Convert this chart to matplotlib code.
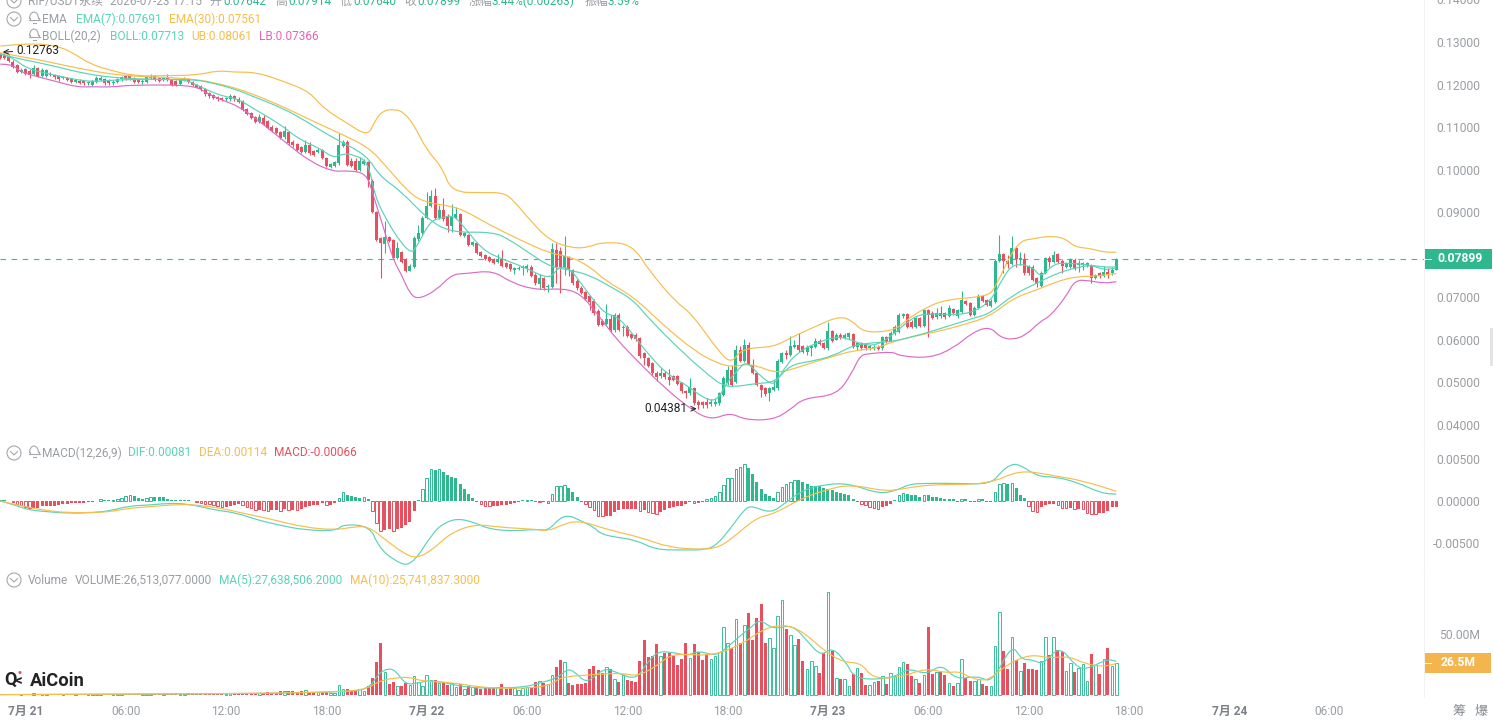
# -*- coding: utf-8 -*-
import matplotlib
matplotlib.use('Agg')
import matplotlib.pyplot as plt
import numpy as np
from matplotlib.patches import Circle, Rectangle, Arc, PathPatch
from matplotlib.path import Path

plt.rcParams['font.family'] = ['Roboto', 'Noto Sans CJK SC', 'DejaVu Sans']

# 15 minute candles, prices in thousandths
opens = [126.9,126.9,126.5,125.4,124.6,123.0,123.6,123.3,122.6,123.8,122.0,122.0,
    122.6,122.2,122.0,121.5,121.5,121.4,120.7,120.9,120.8,120.3,119.9,120.7,
    121.1,121.2,120.9,120.3,120.7,121.2,122.0,121.9,121.4,121.1,120.5,120.7,
    121.6,121.9,121.5,121.1,121.7,121.1,120.8,120.1,121.1,121.2,120.6,119.9,
    119.7,119.0,118.0,117.5,117.0,116.8,116.5,116.5,117.2,116.7,116.1,114.2,
    113.2,112.3,111.2,112.1,111.4,110.1,109.8,108.9,107.6,108.9,106.6,106.0,
    105.3,104.2,105.7,104.3,104.2,104.6,102.7,100.7,100.9,101.5,105.6,106.6,
    102.1,102.1,100.0,101.4,101.7,97.4,90.1,83.9,82.5,84.1,83.5,79.2,
    80.7,78.9,76.3,77.2,83.6,85.0,88.6,91.5,93.8,88.6,90.5,88.9,
    86.8,88.6,89.6,84.4,84.6,82.3,82.7,80.7,79.9,79.4,78.9,78.4,
    78.9,78.0,77.8,76.4,76.7,76.8,76.9,77.2,75.3,73.2,74.5,72.4,
    72.4,81.1,81.0,77.0,79.4,76.4,73.9,72.3,71.3,70.2,69.2,66.9,
    64.5,63.7,65.0,62.2,65.9,62.7,63.1,61.4,61.2,60.4,56.8,55.7,
    54.5,52.3,51.4,52.3,51.2,51.4,51.4,49.8,47.9,47.4,48.6,45.5,
    45.3,45.4,44.9,44.9,45.1,47.1,49.8,52.9,50.2,57.6,55.1,58.8,
    54.1,52.2,49.4,48.6,47.4,48.2,48.6,54.9,56.9,56.5,58.4,58.8,
    58.6,57.2,58.0,58.4,59.8,59.2,58.2,62.1,60.0,61.2,60.4,60.6,
    61.4,58.4,59.3,59.0,58.0,58.0,58.4,58.0,60.6,59.8,61.5,61.9,
    65.5,66.1,64.3,63.0,65.1,63.3,67.0,66.4,65.3,66.4,66.2,65.6,
    67.2,65.5,66.6,69.1,68.6,65.9,67.6,70.3,69.4,68.0,69.0,78.6,
    80.2,78.6,77.8,81.5,78.8,78.9,77.4,77.2,74.5,72.7,75.8,79.2,
    78.4,80.2,78.6,77.2,77.2,78.8,77.6,77.6,77.5,77.6,74.5,75.6,
    75.0,76.0,75.6,76.42]
closes = [126.2,126.2,125.6,124.2,123.0,123.4,122.6,122.2,123.8,122.0,123.4,123.4,
    122.2,121.7,121.2,121.7,121.1,120.7,121.1,120.4,120.3,120.6,120.8,121.5,
    121.6,120.3,120.3,120.7,121.2,121.7,121.4,121.4,120.6,120.6,120.9,121.7,
    121.7,121.2,120.9,121.5,121.1,119.9,120.0,121.2,121.4,120.7,120.0,119.5,
    118.9,117.7,117.2,116.8,116.5,116.4,116.8,117.3,116.5,116.0,114.0,113.1,
    112.1,111.3,112.3,110.7,109.8,109.2,108.7,107.5,109.2,106.2,105.7,104.6,
    104.2,105.9,103.8,103.5,104.6,102.7,100.9,101.3,101.7,105.8,106.6,101.1,
    100.9,100.0,102.1,102.1,97.6,90.1,83.5,82.7,84.1,83.3,79.2,81.5,
    78.4,76.3,77.4,84.0,85.0,88.7,91.5,93.8,88.6,90.5,88.3,86.8,
    88.9,89.6,84.6,85.0,82.3,82.9,80.5,79.7,79.0,78.6,78.1,78.9,
    77.4,77.1,76.6,76.8,77.0,77.0,77.4,75.0,73.3,74.5,72.1,72.7,
    81.3,77.2,77.2,79.7,76.6,73.3,72.1,71.1,69.6,69.0,66.2,63.5,
    63.5,64.8,62.2,65.9,62.3,63.1,60.9,60.4,60.1,56.1,55.7,53.9,
    52.1,51.2,52.3,51.2,50.6,50.6,49.6,47.9,47.4,48.9,45.1,44.7,
    44.7,44.7,45.4,45.5,47.4,51.0,52.9,49.4,57.6,55.1,58.8,54.3,
    52.2,49.4,48.2,47.3,48.6,49.0,55.1,56.9,56.5,58.6,58.8,57.5,
    57.2,58.4,58.6,59.8,59.0,58.2,62.1,59.8,61.2,60.4,61.2,61.5,
    58.4,59.3,58.0,58.0,58.6,58.4,57.9,60.6,59.6,61.7,63.1,65.9,
    66.1,63.0,63.0,65.1,63.3,67.0,65.9,65.1,66.4,65.5,65.3,67.4,
    66.2,67.0,69.4,68.4,65.9,67.6,70.3,69.2,68.2,69.2,78.6,80.2,
    78.6,77.8,81.5,78.9,79.2,75.6,75.6,74.1,73.1,75.8,79.2,78.4,
    80.0,78.4,77.4,78.0,78.9,77.0,78.0,78.0,78.0,74.5,75.2,74.9,
    76.0,75.2,76.4,78.99]
highs = [127.4,127.63,127.0,125.7,124.9,123.8,123.9,123.6,124.5,124.1,123.9,123.7,
    122.9,122.5,122.3,122.1,121.8,121.6,121.4,121.2,121.1,120.9,121.1,121.9,
    121.9,121.5,121.2,121.0,121.5,122.0,122.3,122.2,121.7,121.4,121.2,122.0,
    122.5,122.2,121.8,121.8,122.5,121.4,121.1,121.5,121.7,121.5,120.9,120.1,
    119.9,119.2,118.2,117.8,117.3,117.1,117.0,117.9,117.5,117.0,116.3,114.4,
    113.5,112.6,113.0,112.8,111.7,110.4,110.1,109.1,110.3,109.1,106.9,106.3,
    105.6,106.9,106.4,104.6,105.2,104.9,102.9,101.6,102.0,108.5,107.0,106.9,
    102.8,102.7,102.9,102.4,102.0,97.7,90.4,84.2,88.0,84.5,83.8,83.0,
    81.0,79.2,77.8,84.4,87.0,89.0,94.8,95.2,95.6,91.7,93.3,89.6,
    92.0,91.3,89.9,85.3,84.9,83.3,83.0,81.0,80.2,79.7,79.2,80.2,
    81.1,78.3,78.1,77.1,77.3,77.6,77.8,77.5,75.6,75.4,74.8,73.1,
    82.7,82.7,81.9,84.5,79.7,76.7,74.2,72.6,71.6,70.5,69.5,67.2,
    64.8,68.4,65.9,66.3,66.2,63.5,63.4,61.7,61.5,60.7,57.1,56.0,
    54.8,52.6,53.3,52.6,53.1,51.7,51.7,50.1,48.2,51.1,48.9,45.8,
    45.6,46.3,46.0,46.3,47.8,51.4,53.9,54.0,58.8,58.5,60.1,59.5,
    55.4,52.5,49.7,48.9,48.9,50.6,55.4,57.2,57.6,60.8,59.9,61.7,
    58.9,58.7,58.9,60.4,60.2,59.5,64.3,62.4,61.5,61.5,61.5,61.8,
    61.7,59.6,59.6,59.3,58.9,58.7,58.7,60.9,60.9,62.0,63.4,66.2,
    66.4,66.4,64.6,65.4,65.4,67.3,67.3,66.7,67.6,68.0,66.5,68.2,
    67.5,67.3,71.6,69.4,68.9,67.9,70.8,70.6,69.7,69.5,78.9,84.6,
    80.5,79.9,84.4,82.1,80.7,80.3,77.7,77.5,74.8,76.1,79.5,79.7,
    81.0,80.5,78.9,78.3,79.2,79.2,78.8,78.4,78.4,77.9,75.5,75.9,
    77.4,76.8,77.1,79.14]
lows = [125.9,125.9,125.3,123.9,122.7,122.7,122.3,121.5,122.3,121.7,121.7,121.7,
    121.9,121.4,120.9,121.2,120.8,120.4,120.4,120.1,120.0,120.0,119.7,120.4,
    120.8,120.0,120.0,120.0,120.4,120.9,121.1,121.1,120.3,120.3,120.2,120.4,
    121.3,120.9,120.6,120.8,120.8,119.6,119.7,119.8,120.8,120.4,119.7,119.2,
    118.6,117.4,116.9,116.5,116.2,116.1,116.2,116.2,116.2,115.7,113.7,112.8,
    111.8,111.0,110.9,110.4,109.5,108.9,108.4,107.2,107.3,105.9,105.4,104.3,
    103.9,103.9,103.5,103.2,103.9,102.4,100.6,100.4,100.6,101.2,105.3,100.8,
    100.6,99.7,99.7,101.1,96.0,89.8,83.2,74.5,80.4,83.0,78.9,78.9,
    78.1,76.0,76.2,76.9,83.3,84.7,88.3,91.2,88.3,88.3,88.0,85.4,
    85.4,88.3,84.3,84.1,82.0,82.0,80.2,79.4,78.7,78.3,77.8,78.1,
    77.1,76.8,76.3,75.5,76.4,75.2,76.0,74.7,73.0,72.0,71.8,71.3,
    72.1,73.3,71.1,75.2,75.0,73.0,71.8,70.8,69.3,67.0,65.9,63.2,
    63.2,63.4,61.9,61.9,62.0,60.8,60.6,60.1,59.8,55.8,54.1,53.6,
    51.8,50.4,51.1,50.9,49.4,50.3,49.3,47.6,46.3,47.1,44.8,43.81,
    44.0,44.0,44.5,44.5,44.8,46.8,49.5,49.1,49.8,54.8,54.8,54.0,
    51.9,49.1,46.6,46.9,45.7,47.9,48.1,54.6,55.5,56.2,58.1,57.2,
    56.9,56.5,56.2,58.1,58.7,57.9,57.5,59.5,59.9,60.1,60.1,60.3,
    58.1,57.6,57.7,57.7,57.7,57.7,57.6,57.7,59.3,59.5,61.2,61.6,
    65.2,62.7,62.7,62.7,63.0,63.0,60.6,64.8,65.0,65.2,65.0,65.3,
    65.9,65.2,66.3,68.1,65.6,65.6,67.3,68.9,67.9,67.7,68.7,78.3,
    75.8,76.8,77.5,77.2,77.6,75.3,75.3,73.8,72.5,72.4,75.5,77.2,
    78.1,78.1,75.8,76.9,76.9,76.4,76.0,76.4,77.2,73.3,74.2,74.6,
    74.7,74.5,75.3,76.40]

# indicator lines: candle position and value pairs
ub_i = [0,8,13.5,17,21.5,26.2,32,40,47,52,56,61.3,68,74,77.3,83,88,89.7,91.6,94.4,96.5,99,102,105.6,108,115.6,120.3,122.7,127,131.5,137,141,143.5,151,155.4,161.8,165.4,172.2,175,177.4,184.9,188.9,195.3,200.5,203.6,206,209.6,214.4,216.8,221.6,226.4,236,238,243.1,247.9,251.1,254.7,257.1,260.7,263.9,267]
ub_v = [129.06,129.7,129.06,127.7,124.8,123.4,122.0,122.1,122.2,123.3,122.9,122.9,120.7,118.3,114.4,110.9,107.8,111.7,113.9,114.2,113.5,110.5,104.6,100.7,94.7,94.6,94.6,92.9,87.8,83.3,81.5,81.8,82.9,82.7,76.0,68.7,66.2,56.8,54.5,58.0,58.3,60.4,63.3,65.5,64.7,62.2,61.7,62.5,64.7,67.7,69.5,70.2,72.1,83.1,83.9,84.4,83.9,81.8,81.5,80.6,80.61]
lb_i = [0,3.1,4.7,8.7,13.5,18.3,22.2,27,31,46.2,49.4,52.6,57.3,62.1,68.5,74.1,79.7,82.9,87.6,89.2,91.6,94,96,98,100,104.4,108,111.6,117.9,122.3,128.3,134.7,138.7,142.7,147.5,153,158.6,165.8,170.2,174.6,178.2,184.9,188.9,192.1,200.1,203.7,205.7,208.1,213.6,215.2,222.4,228,232.8,236.8,239.2,242.3,245.5,248.7,251.1,255,257.1,260.7,263.9,267]
lb_v = [124.8,124.6,123.0,121.9,120.7,119.4,119.5,119.4,119.9,119.9,118.0,116.5,114.8,111.3,106.2,101.9,99.5,99.8,99.2,94.1,86.6,78.8,75.3,70.8,69.5,71.7,75.4,75.6,76.3,73.4,71.7,72.1,70.9,66.3,60.0,54.5,49.0,43.2,41.2,42.9,41.2,41.2,43.5,46.3,47.0,52.1,56.4,56.8,57.2,56.2,55.7,58.0,61.9,63.1,60.6,60.0,61.2,64.3,65.5,70.2,74.1,73.9,73.3,73.66]
ema30_i = [0,4.7,10.3,15.9,23,30.2,39.8,47,51.8,57.3,62.9,68.5,73.3,79.7,88,92.4,97.2,100.8,108.4,111.6,117.1,124.3,131.5,136.3,141.1,145,151.4,158.6,165.8,171.4,175.4,178.2,181,185.3,188.9,193.7,198.5,204.1,209.6,213.6,218.4,224,229.6,236.8,242.3,247.9,252.7,257.5,261.5,267]
ema30_v = [127.5,126.6,125.6,124.4,123.0,122.0,121.7,121.2,120.3,118.9,116.8,114.4,112.1,109.2,105.4,100.7,95.2,92.5,91.3,90.1,87.0,83.5,80.3,79.6,77.2,73.7,70.2,63.5,57.6,54.5,53.6,54.3,53.9,52.3,52.9,54.5,55.9,57.5,58.0,59.6,60.8,61.9,63.3,65.5,69.8,71.7,73.7,74.9,74.9,75.61]
ema7_i = [0,3.1,6.3,11.1,18.3,22.2,27.8,33.4,39.8,44.6,48.6,53.3,56.5,60.5,64.5,67.7,71.7,76.5,79.7,82,84.5,88,89.6,92.4,95.6,98.4,99.6,102.8,105.2,108.4,111.2,115.5,119.5,125.1,131.5,133.5,136.3,139.5,144.3,147.5,150.6,155.4,160.2,164.2,168.2,171.4,173.8,176.6,178,179.5,181,184,185.5,188,191,195,200,203,206,209.5,213.6,217.5,220.7,227,232,237,240,242.5,247,249,252,256,261,264,267]
ema7_v = [127.2,126.2,123.8,122.6,121.1,120.7,121.1,121.2,121.2,121.1,119.1,117.2,116.8,114.4,112.1,110.1,107.0,105.0,102.7,103.8,103.5,101.9,93.7,88.2,83.1,80.3,81.9,87.8,88.6,89.4,86.2,81.1,79.2,77.2,74.1,77.2,76.8,72.5,66.3,65.5,62.3,56.1,51.4,49.4,46.3,45.5,50.0,53.0,54.6,54.0,52.3,49.8,49.8,54.0,57.2,59.2,60.8,60.2,59.0,58.6,61.2,64.7,66.2,65.9,66.2,69.0,74.9,78.0,77.2,74.5,78.0,78.0,77.6,76.4,76.91]
boll_i = [0,3.9,7.9,13.5,18.3,23.8,29.4,35.8,45.4,49.4,55.7,60.5,67.7,73.3,79.7,87.6,90.8,95.6,102,107.6,117.9,121.9,126.7,131.5,136.3,141.1,146.7,151.4,155.4,163.4,169.8,172.6,175.4,181,185.3,188.9,193.7,199.3,204.1,209.6,213.6,220,226.4,232.8,236.8,242.3,247.9,252.7,256.7,260.7,263.9,267]
boll_v = [127.2,126.2,125.4,124.2,123.0,122.0,121.5,121.2,121.2,120.7,119.1,117.2,114.4,111.3,107.4,103.5,98.4,95.2,88.6,85.2,85.4,83.5,80.3,77.2,76.4,75.2,72.1,69.4,64.7,56.9,51.4,49.4,48.9,49.8,50.0,54.1,54.9,56.2,58.8,59.4,59.6,61.2,63.1,65.1,66.2,70.6,73.3,75.6,76.8,77.6,77.1,77.13]

# MACD pane, values in 1e-5
macd_hist = [16,12,-4,-16,-31,-51,-71,-86,-86,-78,-59,-59,
    -55,-55,-51,-35,-35,-27,-27,-24,-24,-12,-8,4,
    20,12,12,16,24,39,63,67,55,35,24,35,
    51,51,47,47,24,16,16,12,12,8,-4,-12,
    -20,-31,-39,-47,-63,-71,-67,-55,-47,-39,-51,-71,
    -86,-106,-106,-110,-118,-110,-110,-114,-98,-102,-102,-106,
    -94,-75,-63,-51,-43,-24,-47,-47,-24,39,102,71,
    59,43,35,51,20,-118,-255,-353,-345,-333,-353,-333,
    -314,-282,-243,-118,12,137,267,373,365,373,345,306,
    282,275,196,137,78,39,-8,-31,-55,-63,-63,-55,
    -47,-43,-35,-20,-12,8,16,16,-8,-12,-12,-24,
    86,172,176,184,149,110,47,-12,-31,-67,-110,-172,
    -180,-172,-172,-133,-110,-94,-94,-94,-90,-118,-110,-129,
    -141,-157,-125,-110,-86,-71,-55,-55,-35,-12,-20,-20,
    -16,20,31,59,110,188,267,275,373,400,431,384,
    314,223,141,86,55,39,110,169,204,227,243,243,
    223,196,172,172,172,157,137,129,106,94,78,67,
    20,-12,-35,-51,-75,-82,-98,-71,-55,-31,16,71,
    98,86,71,71,47,67,67,47,43,31,20,20,
    20,-8,20,20,-12,-12,20,20,-12,-8,110,196,
    208,204,212,157,71,31,-55,-118,-125,-71,-47,-39,
    -39,-47,-78,-86,-86,-94,-94,-98,-137,-149,-157,-145,
    -137,-118,-71,-66]
dif_i = [0,3.4,6.8,11,16.2,22.2,26.4,30.7,35.8,40.1,45.2,51.2,56.3,61.5,66.6,72.6,80.3,82,88.4,90.5,94,98.2,103.4,106,109.4,113.6,117,123,128.1,131.1,133.7,136,138.2,142.1,143.4,146.4,152.1,156.9,164.3,168.2,171.2,174.7,178.2,180,184.3,187.7,192,197.3,203,210.3,214.7,217.3,220.8,228.6,236.9,239.5,241.7,243.8,248.3,252,257.3,263.4,267]
dif_v = [0,-47,-106,-125,-145,-137,-114,-59,-47,-27,-35,-106,-137,-223,-282,-341,-353,-274,-294,-537,-694,-780,-380,-263,-204,-255,-333,-353,-333,-349,-204,-169,-216,-310,-380,-420,-459,-576,-576,-576,-529,-322,-86,-59,-145,-27,129,196,208,82,129,196,208,208,196,345,431,431,286,286,227,90,81]
dea_i = [0,5.1,11,16.2,22.2,26.4,30.7,35.8,42.7,47,53,58.1,64,72.6,80.3,83.7,88,92.2,96.5,99.5,103.4,107.6,113.6,119.6,128.1,131.1,133.7,138.2,145.6,153.4,159.9,166.9,171.2,174.7,180.8,185.1,191.2,197.3,203.4,212.1,217.3,223.4,236.4,243.8,251.2,259,267]
dea_v = [0,-59,-114,-137,-137,-125,-86,-67,-39,-47,-86,-145,-204,-310,-341,-310,-294,-459,-616,-678,-576,-380,-270,-310,-333,-353,-294,-223,-341,-431,-545,-569,-557,-459,-196,-153,20,129,196,110,157,196,196,365,306,239,114]

# volume pane, values in millions
volumes = [0.9,1.0,0.8,1.1,0.9,0.8,1.0,0.9,1.5,0.8,0.9,1.0,
    0.8,0.9,0.7,1.0,0.8,0.9,1.0,0.8,0.7,0.9,0.8,0.7,
    0.9,1.0,0.8,0.7,0.9,0.8,1.0,0.9,0.7,0.8,0.9,0.8,
    0.7,0.9,1.0,0.8,0.9,0.8,0.7,0.9,1.0,0.8,0.9,1.0,
    1.2,1.1,1.0,1.2,1.1,1.3,1.2,1.3,1.5,
    1.6,1.6,1.8,1.6,1.5,1.5,1.3,2.7,1.6,1.6,3.3,3.3,3.5,3.5,2.8,3.3,3.8,2.5,2.2,2.2,2.2,2.2,1.9,1.9,
    8.2,4.9,4.9,3.3,3.8,4.9,3.3,7.7,13.7,27.3,42.3,19.1,8.7,10.9,7.7,7.7,9.6,8.2,15.8,10.9,7.7,16.4,12.3,12.3,9.6,10.9,8.2,9.6,6.8,8.7,4.9,7.7,6.8,6,4.9,6,5.5,5.5,6.8,8.7,4.9,6,5.5,4.1,6,6.8,5.5,10.9,11.5,9.6,8.7,16.4,23.2,
    29,26.8,9.8,8.5,9,9,9.8,21.6,24,20.8,18,22.7,21.3,13.1,10.9,16.7,12.6,11.7,10.9,28,45.4,31.1,32.2,42,32.2,34.4,34.4,32,24.9,29.5,42.6,30.3,42,35,29,33.6,29.5,32.2,35,55.7,43,38.5,62.3,42.6,57.7,67.2,45.4,63,74.6,42.6,46.7,38.5,65,77.6,54.1,49.5,41.3,46.2,28.1,21.3,28.1,23.5,18,34.4,84.4,36.3,13.9,13.1,13.1,7.7,17.5,22.1,18,7.9,8.5,10.7,11.2,15.3,9.3,18,15.8,23,27,25.7,15.3,13.1,9.8,16.7,55.7,17.5,18.6,19.1,16.7,9.8,7.1,9.8,29.5,13.9,11.7,11.7,13.1,9,7.7,7.1,39.9,68,36.3,21.3,47.5,29,19.4,26.2,21.6,21.3,20.8,27.6,47.5,33,47.5,37.2,35.2,20,26.2,19.1,22.1,25.7,11.7,33.9,24.9,17.5,29.5,38.5,24,26.51]
ma5_i = [0,56.3,66.6,76.9,80.3,88,90.5,93.1,94.8,97,100,102.5,106,110.2,114.5,119.6,125.6,129,133.3,135.6,137.3,139.9,142.1,144.7,148.2,152.1,154.7,157.3,160.8,164.3,167.3,171.2,174.7,177.3,179.9,181.7,185.1,189.5,193,196.4,199,202.5,204.3,210.3,214.7,217.3,221.7,225.2,228.6,233.8,237.3,242,244.3,246.9,249.5,253.4,257.3,259.9,264.7,267]
ma5_v = [0.3,1.1,1.6,2.2,2.7,3.8,18,22.1,19.1,8.5,9.8,12,10.4,7.1,5.7,5.7,6.6,9.8,13.9,21.3,19.4,10.4,14.8,22.1,17.5,12.6,26.2,35.8,35,32.2,36.3,31.7,41.3,49.5,56.3,62,53.6,57.9,44.3,31.7,39.3,26.2,13.9,12.6,15.8,21.9,16.7,25.4,12.6,15.8,9.8,42,29,29,24.9,40.4,23.5,20.8,29.5,27.64]
ma10_i = [0,58,76.9,87.1,90.5,94,98.2,100.8,107.7,114.5,119.6,127.3,132,134,141.7,149,152.1,156.4,159.9,163.4,170.4,177.3,182.5,186.9,190.4,193.8,197.3,201.7,206,208.6,214.7,221.7,226,229.5,232.1,236,239.9,243,246.9,250.8,255.6,259.1,263.5,267]
ma10_v = [0.3,1.1,2.2,3.8,11.2,13.9,14.8,11.2,10.4,6.6,5.5,5.7,8.5,14.8,16.7,18,15.3,22.1,32.2,33.6,32.2,41.3,54.1,57.6,54.9,46.7,35.8,26.8,26.2,13.9,13.9,22.1,18,19.4,13.9,11.2,22.1,28.9,33,30.3,31.7,26.2,23,25.74]

price_ticks = [0.04,0.05,0.06,0.07,0.08,0.09,0.10,0.11,0.12,0.13,0.14]
macd_ticks = [0.005,0.0,-0.005]
time_ticks = ['7月 21','06:00','12:00','18:00','7月 22','06:00','12:00','18:00',
              '7月 23','06:00','12:00','18:00','7月 24','06:00']

UP = '#2FB88E'
DOWN = '#E6505F'
TEAL = '#5AD3B9'
ORANGE = '#F6BE4C'
PINK = '#DB6CC6'
GREY = '#9A9EA3'

W, H = 1493, 724
XMAX = 1424

def pane(top, bottom):
    # axes placed by pixel rows, all panes share the candle index on x
    ax = fig.add_axes([0, 1 - bottom / H, XMAX / W, (bottom - top) / H])
    ax.set_xlim(-0.07, 340.6)
    ax.patch.set_alpha(0)
    for s in ['top', 'left', 'bottom']:
        ax.spines[s].set_visible(False)
    ax.spines['right'].set_color('#f2f2f2')
    ax.yaxis.tick_right()
    # right aligned labels, so the pad runs to their right edge
    ax.tick_params(axis='y', length=0, pad=40.5, labelsize=8.7, labelcolor=GREY)
    ax.set_xticks([])
    return ax

def right_align(ax):
    for t in ax.get_yticklabels():
        t.set_horizontalalignment('right')

def curve(ax, xs, ys, color, lw=0.85):
    # rounded polyline: the listed points act as quadratic control points
    p = np.column_stack([xs, ys])
    mid = (p[:-1] + p[1:]) / 2
    verts = [p[0], mid[0]]
    codes = [Path.MOVETO, Path.LINETO]
    for k in range(1, len(p) - 1):
        verts += [p[k], mid[k]]
        codes += [Path.CURVE3, Path.CURVE3]
    verts.append(p[-1])
    codes.append(Path.LINETO)
    ax.add_patch(PathPatch(Path(verts, codes), fill=False, ec=color, lw=lw, zorder=3))

fig = plt.figure(figsize=(W / 100, H / 100), dpi=100, facecolor='white')

o = np.array(opens) / 1000
c = np.array(closes) / 1000
h = np.array(highs) / 1000
l = np.array(lows) / 1000
x = np.arange(len(c))
rising = c >= o
colors = np.where(rising, UP, DOWN)

# candles
ax = pane(-5, 441)
ax.set_ylim(0.03623, 0.14105)
ax.vlines(x, l, h, colors=colors, linewidth=0.8, zorder=2)
body = np.maximum(np.abs(c - o), 0.00025)
ax.bar(x, body, bottom=np.minimum(o, c), width=0.72, color=colors, linewidth=0, zorder=2)
ax.axhline(c[-1], color='#35BFA0', linewidth=0.8, dashes=(5, 5), zorder=1)

curve(ax, ub_i, np.array(ub_v) / 1000, ORANGE)
curve(ax, ema30_i, np.array(ema30_v) / 1000, ORANGE)
curve(ax, boll_i, np.array(boll_v) / 1000, TEAL)
curve(ax, ema7_i, np.array(ema7_v) / 1000, TEAL)
curve(ax, lb_i, np.array(lb_v) / 1000, PINK)

ax.set_yticks(price_ticks)
ax.set_yticklabels(['%.5f' % t for t in price_ticks])
right_align(ax)

hi_i = int(np.argmax(h))
lo_i = int(np.argmin(l))
ax.annotate('%.5f' % h[hi_i], xy=(hi_i - 0.4, h[hi_i]), xytext=(14, 2), textcoords='offset pixels',
            fontsize=8.6, color='#222222', va='center',
            arrowprops=dict(arrowstyle='->', color='#222222', lw=0.7, shrinkA=1, shrinkB=0))
ax.annotate('%.5f' % l[lo_i], xy=(lo_i - 0.4, l[lo_i]), xytext=(-9, 0), textcoords='offset pixels',
            fontsize=8.6, color='#222222', va='center', ha='right',
            arrowprops=dict(arrowstyle='->', color='#222222', lw=0.7, shrinkA=1, shrinkB=0))

# MACD histogram, hollow while the bar is growing
ax2 = pane(441, 570)
ax2.set_ylim(-0.00812, 0.00706)
hist = np.array(macd_hist) * 1e-5
bar_col = np.where(hist >= 0, UP, DOWN)
growing = np.abs(hist) > np.abs(np.r_[0, hist[:-1]])
ax2.bar(x[~growing], hist[~growing], width=0.72, color=bar_col[~growing], linewidth=0, zorder=2)
ax2.bar(x[growing], hist[growing], width=0.62, facecolor='white', edgecolor=bar_col[growing], linewidth=0.7, zorder=2)
curve(ax2, dif_i, np.array(dif_v) * 1e-5, TEAL)
curve(ax2, dea_i, np.array(dea_v) * 1e-5, ORANGE)
ax2.set_yticks(macd_ticks)
ax2.set_yticklabels(['%.5f' % t for t in macd_ticks])
right_align(ax2)

# volume, up bars hollow
ax3 = pane(570, 697)
ax3.set_ylim(-1.64, 102.46)
v = np.array(volumes)
ax3.bar(x[~rising], v[~rising], width=0.72, color=DOWN, linewidth=0, zorder=2)
ax3.bar(x[rising], v[rising], width=0.62, facecolor='white', edgecolor='#3CBF9A', linewidth=0.7, zorder=2)
curve(ax3, ma5_i, ma5_v, TEAL)
curve(ax3, ma10_i, ma10_v, ORANGE)
ax3.set_yticks([50])
ax3.set_yticklabels(['50.00M'])
right_align(ax3)

ax3.set_xticks([6 + 24 * k for k in range(len(time_ticks))])
ax3.set_xticklabels(time_ticks)
ax3.tick_params(axis='x', length=0, pad=6, labelsize=8.6, labelcolor=GREY)
for k, lab in enumerate(ax3.get_xticklabels()):
    if k % 4 == 0:
        lab.set_fontweight('bold')
        lab.set_color('#7d8187')

# header texts, tags and icons sit on a pixel overlay
top = fig.add_axes([0, 0, 1, 1], zorder=10)
top.set_xlim(0, W)
top.set_ylim(H, 0)
top.axis('off')

def label(px, py, s, color=GREY, **kw):
    kw.setdefault('fontsize', 8.6)
    top.text(px, py, s, color=color, va='center', ha='left', **kw)

def chevron(px, py):
    top.add_patch(Circle((px, py), 7, fill=False, ec='#a4a8ad', lw=0.8))
    top.plot([px - 3.5, px, px + 3.5], [py - 1.5, py + 2, py - 1.5], color='#a4a8ad', lw=0.8)

def bell(px, py):
    top.add_patch(Arc((px, py), 9, 14, theta1=180, theta2=360, ec='#a4a8ad', lw=0.8))
    top.plot([px - 5.5, px + 5.5], [py + 1, py + 1], color='#a4a8ad', lw=0.8)
    top.plot([px - 1.5, px + 1.5], [py + 4, py + 4], color='#a4a8ad', lw=0.8)
    top.plot([px - 4.5, px - 4.5], [py - 1, py + 1], color='#a4a8ad', lw=0.8)
    top.plot([px + 4.5, px + 4.5], [py - 1, py + 1], color='#a4a8ad', lw=0.8)

chevron(14, 1)
chevron(14, 19)
chevron(14, 453)
chevron(14, 580)
bell(34, 19)
bell(34, 36)
bell(34, 453)

label(28, 1.5, 'RIF/USDT永续')
label(110, 1.5, '2026-07-23 17:15')
for px, s, col in [(209, '开', GREY), (223, '0.07642', UP), (275, '高', GREY), (288, '0.07914', UP),
                   (340, '低', GREY), (353, '0.07640', UP), (404, '收', GREY), (417, '0.07899', UP),
                   (469, '涨幅', GREY), (492, '3.44%(0.00263)', UP), (585, '振幅', GREY), (608, '3.59%', UP)]:
    label(px, 1.5, s, col)

label(42, 19.5, 'EMA')
label(76, 19.5, 'EMA(7):0.07691', TEAL)
label(169, 19.5, 'EMA(30):0.07561', ORANGE)
label(42, 36.5, 'BOLL(20,2)')
label(110, 36.5, 'BOLL:0.07713', TEAL)
label(191, 36.5, 'UB:0.08061', ORANGE)
label(259, 36.5, 'LB:0.07366', '#E463B8')
label(42, 453, 'MACD(12,26,9)')
label(128, 453, 'DIF:0.00081', TEAL)
label(199, 453, 'DEA:0.00114', ORANGE)
label(274, 453, 'MACD:-0.00066', DOWN)
label(28, 580.5, 'Volume')
label(75, 580.5, 'VOLUME:26,513,077.0000')
label(219, 580.5, 'MA(5):27,638,506.2000', TEAL)
label(350, 580.5, 'MA(10):25,741,837.3000', ORANGE)

# last price and last volume tags
top.add_patch(Rectangle((1425, 249), 67, 20, fc=UP, ec='none'))
top.text(1437, 259, '0.07899', color='white', fontsize=8.7, fontweight='bold', va='center')
top.plot([1424, 1431], [259, 259], color='white', lw=0.7)
top.add_patch(Rectangle((1425, 653), 66, 20, fc='#F5B54E', ec='none'))
top.text(1441, 663, '26.5M', color='white', fontsize=8.7, fontweight='bold', va='center')
top.plot([1425, 1431], [663, 663], color='white', lw=0.7)

# side handle and the two small buttons
top.add_patch(Rectangle((1490, 328), 3, 38, fc='#e4e4e4', ec='none'))
label(1452, 712, '筹', '#85898e', fontsize=9.4)
label(1474, 712, '爆', '#85898e', fontsize=9.4)

# logo
top.text(4, 680, 'Q', color='#222222', fontsize=13, fontweight='bold', va='center')
top.text(15, 681, '<', color='#222222', fontsize=11, fontweight='bold', va='center')
top.add_patch(Circle((20, 672.5), 1.5, fc=DOWN, ec='none'))
top.text(30, 681, 'AiCoin', color='#222222', fontsize=13.2, fontweight='bold', va='center')

fig.savefig('out.png', dpi=100)
